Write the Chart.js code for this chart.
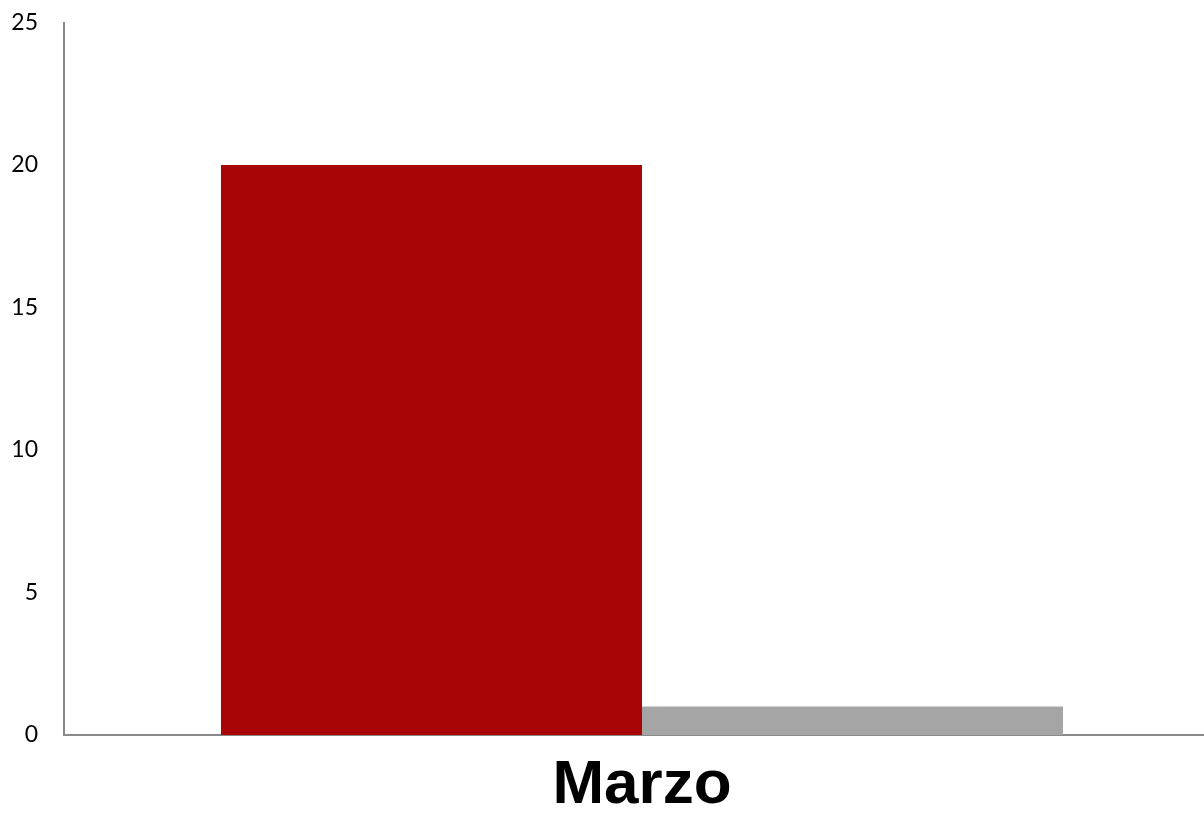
<!DOCTYPE html>
<html>
<head>
<meta charset="utf-8">
<script src="https://cdn.jsdelivr.net/npm/chart.js@4/dist/chart.umd.min.js"></script>
<style>
    html, body { margin: 0; padding: 0; background: #fff; overflow: hidden; }
    #wrap { width: 1220px; height: 837px; }
</style>
</head>
<body>
<div id="wrap"><canvas id="barChart" width="1220" height="837"></canvas></div>
<script>
// Chart data
const categories = ['Marzo'];
const seriesA = [20];
const seriesB = [1];
const yTicks = [0, 5, 10, 15, 20, 25];

const redColor = '#A80606';
const grayColor = '#A5A5A5';
const axisColor = '#898989';

const ctx = document.getElementById('barChart').getContext('2d');

new Chart(ctx, {
    type: 'bar',
    data: {
        labels: categories,
        datasets: [
            { label: 'A', data: seriesA, backgroundColor: redColor, barPercentage: 1, categoryPercentage: 0.7284 },
            { label: 'B', data: seriesB, backgroundColor: grayColor, barPercentage: 1, categoryPercentage: 0.7284 }
        ]
    },
    options: {
        responsive: false,
        animation: false,
        layout: { padding: 0 },
        plugins: {
            legend: { display: false },
            tooltip: { enabled: false }
        },
        scales: {
            x: {
                grid: { display: false, drawTicks: false },
                border: { color: axisColor, width: 2 },
                ticks: {
                    color: '#000',
                    padding: 14,
                    font: { family: 'Liberation Sans', size: 62, weight: 'bold' }
                },
                afterFit: scale => { scale.height = 102; }
            },
            y: {
                min: yTicks[0],
                max: yTicks[yTicks.length - 1],
                grid: { display: false, drawTicks: false },
                border: { color: axisColor, width: 2 },
                afterBuildTicks: scale => { scale.ticks = yTicks.map(v => ({ value: v })); },
                afterFit: scale => {
                    scale.width = 64;
                    scale.paddingTop = 22.5; // keep the top where the reference has it
                },
                ticks: {
                    color: '#000',
                    padding: 26,
                    font: { family: 'Lato', size: 23 }
                }
            }
        }
    }
});
</script>
</body>
</html>
